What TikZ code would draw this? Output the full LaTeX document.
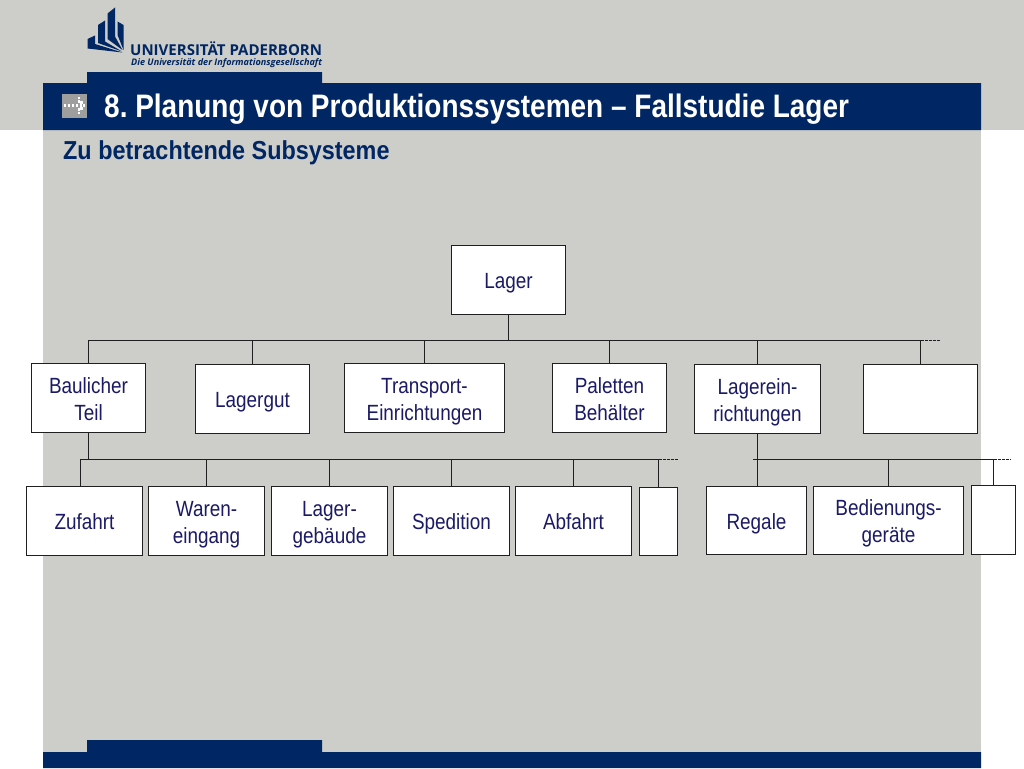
\documentclass[tikz,border=0pt]{standalone}
\usepackage{fontspec}
\usepackage{xcolor}
\setmainfont{Liberation Sans}
\newfontfamily\logofont{Open Sans}
\definecolor{unigray}{HTML}{CDCDC9}
\definecolor{uniblue}{HTML}{002663}
\definecolor{boxtext}{HTML}{1A1A66}
\definecolor{boxline}{HTML}{1F1F1F}
\newcommand{\lowstrut}{\rule[-5pt]{0pt}{5pt}}

\begin{document}
\begin{tikzpicture}[
  x=1pt, y=-1pt,
  subsystem/.style={draw=boxline,fill=white,line width=1.6pt,text=boxtext,align=center,
    inner sep=0pt,font=\fontsize{22}{27}\selectfont\addfontfeatures{FakeStretch=0.86}},
  oneline/.style={execute at begin node={\rule[-5pt]{0pt}{27pt}}},
  twoline/.style={text height=49pt},
  connector/.style={draw=boxline,line width=1.6pt},
  stub/.style={draw=boxline,line width=1pt,dash pattern=on 3pt off 1pt},
  titletext/.style={text=white,anchor=west,inner sep=0pt,
    font=\frenchspacing\fontsize{32.5}{36}\selectfont\bfseries\addfontfeatures{FakeStretch=0.861}},
  subtext/.style={text=uniblue,anchor=west,inner sep=0pt,
    font=\fontsize{26}{28}\selectfont\bfseries\addfontfeatures{FakeStretch=0.9}},
  arrowdot/.style={fill=white,minimum size=2.6pt,inner sep=0pt}
]
  % background
  \useasboundingbox (0,0) rectangle (1024,768);
  \fill[white] (0,0) rectangle (1024,768);
  \fill[unigray] (0,0) rectangle (1024,130);
  \fill[unigray] (43,130) rectangle (981,768);
  \fill[uniblue] (43,83) -- (87,83) -- (87,72) -- (322,72) -- (322,83) -- (981,83)
    -- (981,130) -- (43,130) -- cycle;
  \fill[uniblue] (43,752) -- (87,752) -- (87,740) -- (322,740) -- (322,752) -- (981,752)
    -- (981,768) -- (43,768) -- cycle;

  % logo
  \fill[uniblue] (87.5,39) -- (95,35.5) -- (95,44) -- (122.5,52.5) -- (87.5,48.5) -- cycle;
  \fill[uniblue] (98,25) -- (105,20.5) -- (105,41.5) -- (122,51.5) -- (98,43) -- cycle;
  \fill[uniblue] (107.5,13.5) -- (115,7.5) -- (115,36.5) -- (122.5,50) -- (107.5,39) -- cycle;
  \fill[uniblue] (117.5,21.5) -- (123.5,25) -- (123.5,50) -- (117.5,35) -- cycle;
  \node[text=uniblue,anchor=west,inner sep=0pt,font=\logofont\fontsize{15}{18}\selectfont\bfseries]
    (logoname) at (130,49) {UNIVERSITÄT PADERBORN};
  \node[text=uniblue,anchor=west,inner sep=0pt,font=\logofont\fontsize{9.1}{11}\selectfont\itshape\bfseries]
    (logotag) at (131,63) {Die Universität der Informationsgesellschaft};

  % title bar
  \fill[black!38] (62,94) rectangle (87,118);
  \foreach \dotx/\doty in {65/105.5,69/105.5,73/105.5,77/105.5,81/105.5,84/105.5,
      79/98,79/101.5,81.5/102.5,81.5/108.5,79/109.5,79/113}
    \node[arrowdot] at (\dotx,\doty) {};
  \node[titletext] (title) at (104,109) {8. Planung von Produktionssystemen – Fallstudie Lager};
  \node[subtext] (subtitle) at (63,153) {Zu betrachtende Subsysteme};

  % first level
  \node[subsystem,oneline,minimum width=114pt,minimum height=69pt] (lager) at (508.5,280) {Lager};
  \node[subsystem,twoline,minimum width=114pt,minimum height=69pt] (baulich) at (88.5,398) {Baulicher\\Teil\lowstrut};
  \node[subsystem,oneline,minimum width=114pt,minimum height=69pt] (lagergut) at (252.5,399) {Lagergut};
  \node[subsystem,twoline,minimum width=160pt,minimum height=69pt] (transport) at (424.5,398) {Transport-\\Einrichtungen};
  \node[subsystem,twoline,minimum width=114pt,minimum height=69pt] (paletten) at (609.5,398) {Paletten\\Behälter\lowstrut};
  \node[subsystem,twoline,minimum width=126pt,minimum height=69pt] (einricht) at (757.5,399) {Lagerein-\\richtungen};
  \node[subsystem,minimum width=114pt,minimum height=69pt] (leer) at (920.5,399) {};

  % second level
  \node[subsystem,oneline,minimum width=116pt,minimum height=69pt] (zufahrt) at (84.5,521) {Zufahrt};
  \node[subsystem,twoline,minimum width=116pt,minimum height=69pt] (waren) at (206.5,521) {Waren-\\eingang};
  \node[subsystem,twoline,minimum width=116pt,minimum height=69pt] (gebaeude) at (329.5,521) {Lager-\\gebäude};
  \node[subsystem,oneline,minimum width=116pt,minimum height=69pt] (spedition) at (451.5,521) {Spedition};
  \node[subsystem,oneline,minimum width=116pt,minimum height=69pt] (abfahrt) at (573.5,521) {Abfahrt};
  \node[subsystem,minimum width=38pt,minimum height=68pt] (leerbau) at (658.5,521.5) {};
  \node[subsystem,oneline,minimum width=100pt,minimum height=68pt] (regale) at (756.5,520.5) {Regale};
  \node[subsystem,twoline,minimum width=150pt,minimum height=68pt] (geraete) at (888.5,520.5) {Bedienungs-\\geräte};
  \node[subsystem,minimum width=44pt,minimum height=69pt] (leerein) at (993.5,520) {};

  % bus lines
  \coordinate (bustop) at (920.5,340.5);
  \coordinate (bustopend) at (940,340.5);
  \coordinate (busbau) at (658.5,459.5);
  \coordinate (busbauend) at (678,459.5);
  \coordinate (busein) at (993.5,459.5);
  \coordinate (buseinstart) at (753,459.5);
  \coordinate (buseinend) at (1010,459.5);
  \coordinate (zufahrttop) at (80.5,486);

  \draw[connector] (lager.south) -- (lager.south |- bustop);
  \draw[connector] (baulich.north) |- (bustop);
  \foreach \name in {lagergut,transport,paletten,einricht,leer}
    \draw[connector] (\name.north) -- (\name.north |- bustop);
  \draw[stub] (bustop) -- (bustopend);

  \draw[connector] (baulich.south) -- (baulich.south |- busbau);
  \draw[connector] (zufahrttop) |- (busbau);
  \foreach \name in {waren,gebaeude,spedition,abfahrt,leerbau}
    \draw[connector] (\name.north) -- (\name.north |- busbau);
  \draw[stub] (busbau) -- (busbauend);

  \draw[connector] (einricht.south) -- (regale.north -| einricht.south);
  \draw[connector] (buseinstart) -- (busein);
  \foreach \name in {geraete,leerein}
    \draw[connector] (\name.north) -- (\name.north |- busein);
  \draw[stub] (busein) -- (buseinend);
\end{tikzpicture}
\end{document}
